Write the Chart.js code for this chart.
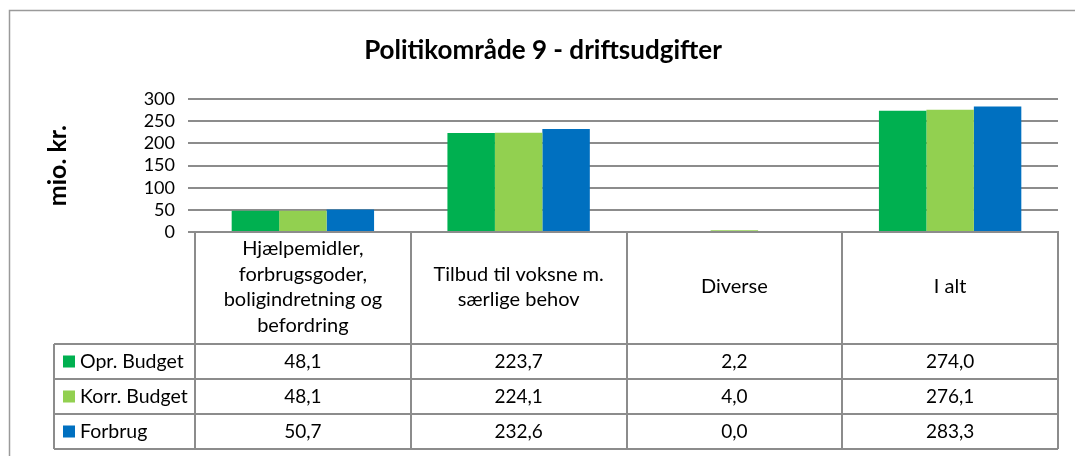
<!DOCTYPE html>
<html>
<head>
<meta charset="utf-8">
<title>Politikområde 9 - driftsudgifter</title>
<script src="https://cdn.jsdelivr.net/npm/chart.js@4/dist/chart.umd.min.js"></script>
<style>
    html, body { margin: 0; padding: 0; background: #fff; }
    #wrap { width: 1075px; height: 456px; }
</style>
</head>
<body>
<div id="wrap"><canvas id="chart"></canvas></div>
<script>
// Kategorier og data
const categories = [
    ['Hjælpemidler,', 'forbrugsgoder,', 'boligindretning og', 'befordring'],
    ['Tilbud til voksne m.', 'særlige behov'],
    ['Diverse'],
    ['I alt']
];
const seriesNames = ['Opr. Budget', 'Korr. Budget', 'Forbrug'];
const oprBudget = [48.1, 223.7, 2.2, 274.0];
const korrBudget = [48.1, 224.1, 4.0, 276.1];
const forbrug = [50.7, 232.6, 0.0, 283.3];
const yTicks = [0, 50, 100, 150, 200, 250, 300];

const colors = ['#00B050', '#92D050', '#0070C0'];
const lineColor = '#8c8c8c';
const fontFamily = 'Lato, "Open Sans", sans-serif';

function formatValue(v) {
    return v.toFixed(1).replace('.', ',');
}

// Tabel under grafen (datatabel som i Excel)
const dataTablePlugin = {
    id: 'dataTable',
    afterDraw(chart) {
        const ctx = chart.ctx;
        const area = chart.chartArea;
        const xScale = chart.scales.x;
        const n = chart.data.labels.length;

        const headerBottom = area.bottom + 112;
        const rowH = 35;
        const legendLeft = 54;
        const tableBottom = headerBottom + rowH * 3;

        // Kolonnegrænser
        const bounds = [area.left];
        for (let i = 0; i < n - 1; i++) {
            bounds.push((xScale.getPixelForValue(i) + xScale.getPixelForValue(i + 1)) / 2);
        }
        bounds.push(area.right);

        ctx.save();

        // Ydre ramme
        ctx.strokeStyle = '#9a9a9a';
        ctx.lineWidth = 1.5;
        ctx.beginPath();
        ctx.moveTo(9.5, 470);
        ctx.lineTo(9.5, 10.5);
        ctx.lineTo(1080, 10.5);
        ctx.stroke();

        ctx.strokeStyle = lineColor;
        ctx.lineWidth = 2;
        ctx.beginPath();
        bounds.forEach(x => {
            ctx.moveTo(Math.round(x), area.bottom);
            ctx.lineTo(Math.round(x), tableBottom);
        });
        ctx.moveTo(legendLeft, headerBottom);
        ctx.lineTo(legendLeft, tableBottom);
        for (let r = 0; r <= 3; r++) {
            const y = headerBottom + r * rowH;
            ctx.moveTo(legendLeft, y);
            ctx.lineTo(area.right, y);
        }
        ctx.stroke();

        // Kategorinavne
        ctx.fillStyle = '#000';
        ctx.textAlign = 'center';
        ctx.textBaseline = 'middle';
        ctx.font = '20px ' + fontFamily;
        const headerMid = (area.bottom + headerBottom) / 2 - 1;
        const lh = 25.5;
        chart.data.labels.forEach((lab, i) => {
            const cx = (bounds[i] + bounds[i + 1]) / 2;
            const lines = Array.isArray(lab) ? lab : [lab];
            const startY = headerMid - (lines.length - 1) * lh / 2;
            lines.forEach((t, k) => ctx.fillText(t, cx, startY + k * lh));
        });

        // Rækker med værdier
        chart.data.datasets.forEach((ds, r) => {
            const cy = headerBottom + r * rowH + rowH / 2;
            ctx.fillStyle = ds.backgroundColor;
            ctx.fillRect(63, cy - 6, 12, 12);
            ctx.fillStyle = '#000';
            ctx.textAlign = 'left';
            ctx.font = '19.5px ' + fontFamily;
            ctx.fillText(ds.label, 80, cy);
            ctx.textAlign = 'center';
            ctx.font = '19px ' + fontFamily;
            ds.data.forEach((v, i) => {
                const cx = (bounds[i] + bounds[i + 1]) / 2;
                ctx.fillText(formatValue(v), cx, cy);
            });
        });

        ctx.restore();
    }
};

new Chart(document.getElementById('chart'), {
    type: 'bar',
    data: {
        labels: categories,
        datasets: [
            { label: seriesNames[0], data: oprBudget, backgroundColor: colors[0] },
            { label: seriesNames[1], data: korrBudget, backgroundColor: colors[1] },
            { label: seriesNames[2], data: forbrug, backgroundColor: colors[2] }
        ]
    },
    options: {
        responsive: true,
        maintainAspectRatio: false,
        animation: false,
        datasets: {
            bar: {
                categoryPercentage: 0.66,
                barPercentage: 1.0
            }
        },
        layout: {
            padding: { top: 10, left: 28, right: 17, bottom: 224 }
        },
        plugins: {
            legend: { display: false },
            tooltip: { enabled: false },
            title: {
                display: true,
                text: 'Politikområde 9 - driftsudgifter',
                color: '#000',
                font: { family: fontFamily, size: 26, weight: 'bold' },
                padding: { top: 25, bottom: 33 }
            }
        },
        scales: {
            x: {
                grid: { display: false, drawTicks: false },
                ticks: { display: false },
                border: { display: true, color: lineColor, width: 2 }
            },
            y: {
                min: 0,
                max: 300,
                afterBuildTicks(scale) {
                    scale.ticks = yTicks.map(v => ({ value: v }));
                },
                afterFit(scale) {
                    scale.width = 167;
                },
                grid: { color: lineColor, lineWidth: 2, tickLength: 7 },
                border: { display: false },
                ticks: {
                    color: '#000',
                    padding: 13,
                    autoSkip: false,
                    font: { family: fontFamily, size: 18 }
                },
                title: {
                    display: true,
                    text: 'mio. kr.',
                    color: '#000',
                    font: { family: fontFamily, size: 25, weight: 'bold' },
                    padding: { top: 15, bottom: 0 }
                }
            }
        }
    },
    plugins: [dataTablePlugin]
});
</script>
</body>
</html>
